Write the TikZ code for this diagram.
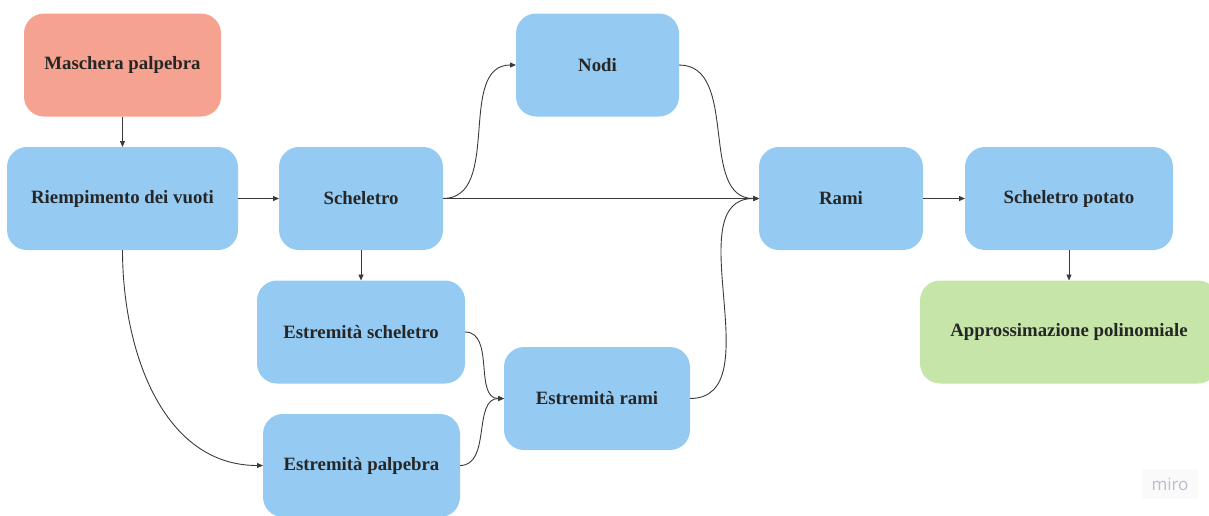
\documentclass[tikz,border=0pt]{standalone}
\usepackage{fontspec}
\setmainfont{Liberation Serif}
\newfontfamily\logofont{Open Sans}
\usetikzlibrary{arrows.meta,positioning}
\definecolor{boxblue}{HTML}{95CBF3}
\definecolor{boxred}{HTML}{F5A290}
\definecolor{boxgreen}{HTML}{C6E5A8}
\definecolor{linegray}{HTML}{3A3A3A}
\definecolor{logogray}{HTML}{BCBCCE}

\begin{document}
\begin{tikzpicture}[x=1pt, y=-1pt,
  stage/.style={fill=boxblue, rounded corners=20pt, minimum height=103pt,
                font=\fontsize{18.8}{22}\selectfont\bfseries,
                text=black!85, outer sep=0pt},
  maskbox/.style={stage, fill=boxred},
  finalbox/.style={stage, fill=boxgreen},
  every edge/.style={draw, linegray, line width=0.9pt,
                     -{Triangle[length=6pt,width=5pt]}},
  sbend/.style={out=0, in=180},
  logo/.style={fill=black!2, text=logogray, minimum width=56pt,
               minimum height=30pt, font=\logofont\fontsize{17}{20}\selectfont}
]
  \useasboundingbox (0,0) rectangle (1209,515);
  \clip (0,0) rectangle (1209,515);

  \node[maskbox, minimum width=197pt] (mask)  at (122.5,65)  {Maschera palpebra};
  \node[stage, minimum width=231pt]   (fill)  at (122.5,198.5) {Riempimento dei vuoti};
  \node[stage, minimum width=164pt]   (skel)  at (361,198.5) {Scheletro};
  \node[stage, minimum width=163pt]   (nodes) at (597.5,65)  {Nodi};
  \node[stage, minimum width=164pt]   (branch) at (841,198.5) {Rami};
  \node[stage, minimum width=208pt]   (pruned) at (1069,198.5) {Scheletro potato};
  \node[stage, minimum width=208pt]   (skelend) at (361,332) {Estremità scheletro};
  \node[stage, minimum width=186pt]   (branchend) at (597,398.5) {Estremità rami};
  \node[stage, minimum width=197pt]   (lidend) at (361.5,465.5) {Estremità palpebra};
  \node[finalbox, minimum width=298pt] (poly) at (1069,332) {Approssimazione polinomiale};
  \node[logo] (miro) at (1170,484) {miro};

  \draw (mask) edge (fill)
        (fill) edge (skel)
        (skel) edge (skelend)
        (skel.east) edge[sbend] (nodes.west)
        (skel) edge (branch)
        (nodes.east) edge[sbend] (branch.west)
        (branchend.east) edge[sbend] (branch.west)
        (branch) edge (pruned)
        (pruned) edge (poly);

  \draw (fill.south) edge[out=-90, in=180] (lidend.west)
        (skelend.east) edge[sbend] (branchend.west)
        (lidend.east) edge[sbend] (branchend.west);
\end{tikzpicture}
\end{document}
